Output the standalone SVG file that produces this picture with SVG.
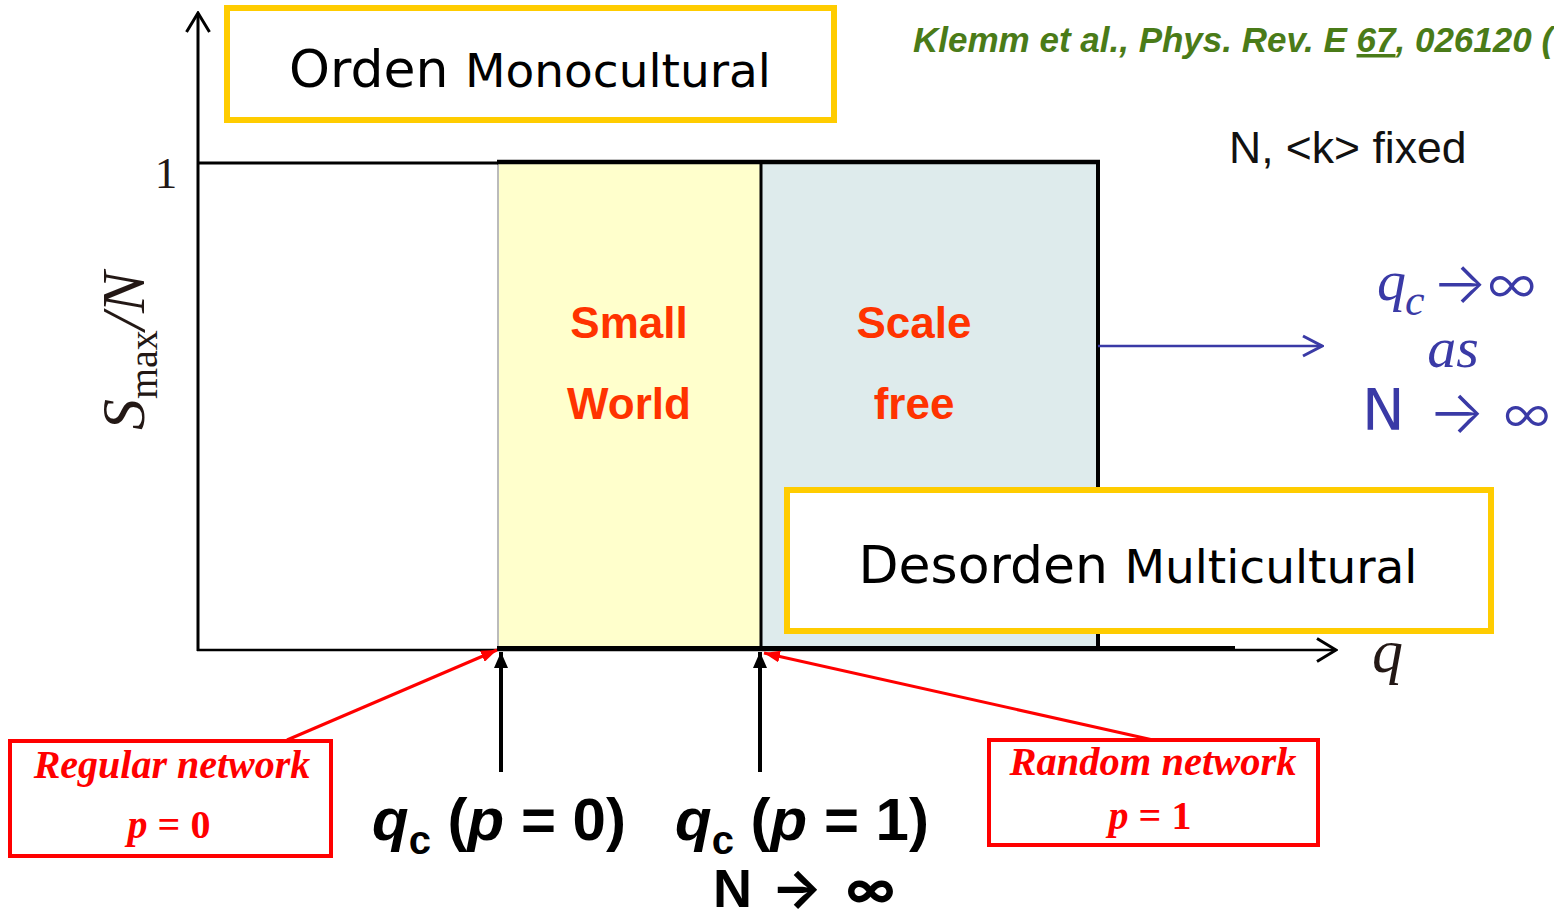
<svg xmlns="http://www.w3.org/2000/svg" width="1554" height="917" viewBox="0 0 1554 917">
<style>
.ax{stroke:#000;fill:none;stroke-linecap:butt}
.yb{fill:#fff;stroke:#FFCC00;stroke-width:6}
.rb{fill:#fff;stroke:#FF0000;stroke-width:4}
.big{font-family:"DejaVu Sans",sans-serif;fill:#000}
.reg{font-family:"Liberation Sans",Arial,sans-serif;font-weight:bold;fill:#FF3300;font-size:44px;text-anchor:middle}
.rtxt{font-family:"Liberation Serif","Times New Roman",serif;font-weight:bold;font-style:italic;fill:#FF0000;text-anchor:middle}
.blue{font-family:"Liberation Serif","Times New Roman",serif;fill:#3A3AA6}
.bsym{font-family:Inter,"DejaVu Sans",sans-serif;fill:#3A3AA6}
.lbl{font-family:"Liberation Sans",Arial,sans-serif;font-weight:bold;fill:#000}
.ksym{font-family:Inter,"DejaVu Sans",sans-serif;font-weight:bold;fill:#000}
</style>
<defs>
<marker id="chevK" viewBox="0 0 22 26" refX="20" refY="13" markerWidth="22" markerHeight="26" markerUnits="userSpaceOnUse" orient="auto"><path d="M1,1.5 L20,13 L1,24.5" fill="none" stroke="#000" stroke-width="3"/></marker>
<marker id="chevB" viewBox="0 0 22 24" refX="20" refY="12" markerWidth="22" markerHeight="24" markerUnits="userSpaceOnUse" orient="auto"><path d="M1,2 L20,12 L1,22" fill="none" stroke="#3A3AA6" stroke-width="3"/></marker>
<marker id="triK" viewBox="0 0 16 14" refX="16" refY="7" markerWidth="16" markerHeight="14" markerUnits="userSpaceOnUse" orient="auto"><path d="M0,0 L16,7 L0,14 z" fill="#000"/></marker>
<marker id="triR" viewBox="0 0 16 12" refX="16" refY="6" markerWidth="16" markerHeight="12" markerUnits="userSpaceOnUse" orient="auto"><path d="M0,0 L16,6 L0,12 z" fill="#FF0000"/></marker>
</defs>

<g id="regions">
<rect x="497" y="163" width="264" height="486" fill="#FFFFCC"/>
<rect x="761" y="163" width="337" height="486" fill="#DEEBEC"/>
<line x1="498" y1="163" x2="498" y2="649" stroke="#BBBBBB" stroke-width="2"/>
</g>

<g id="axes">
<line class="ax" x1="198" y1="651" x2="198" y2="13" stroke-width="3" marker-end="url(#chevK)"/>
<line class="ax" x1="197" y1="163" x2="498" y2="163" stroke-width="3"/>
<line class="ax" x1="497" y1="162" x2="1100" y2="162" stroke-width="4.5"/>
<line class="ax" x1="761" y1="163" x2="761" y2="649" stroke-width="3"/>
<line class="ax" x1="1098" y1="160" x2="1098" y2="650" stroke-width="4"/>
<line class="ax" x1="197" y1="650" x2="1336" y2="650" stroke-width="2.5" marker-end="url(#chevK)"/>
<line class="ax" x1="497" y1="648.5" x2="1098" y2="648.5" stroke-width="5"/>
<line class="ax" x1="1098" y1="648" x2="1235" y2="648" stroke-width="4"/>
</g>

<g id="connectors">
<line x1="1098" y1="346" x2="1322" y2="346" stroke="#3A3AA6" stroke-width="2.5" marker-end="url(#chevB)"/>
<line x1="501" y1="772" x2="501" y2="652" stroke="#000" stroke-width="4" marker-end="url(#triK)"/>
<line x1="760" y1="772" x2="760" y2="652" stroke="#000" stroke-width="4" marker-end="url(#triK)"/>
<line x1="287" y1="740" x2="497" y2="650" stroke="#FF0000" stroke-width="3" marker-end="url(#triR)"/>
<line x1="1153" y1="740" x2="764" y2="653" stroke="#FF0000" stroke-width="3" marker-end="url(#triR)"/>
</g>

<g id="axis-labels">
<text x="166" y="188" font-family="Liberation Serif,serif" font-size="45" fill="#231815" text-anchor="middle">1</text>
<text transform="translate(144,430) rotate(-90)" font-family="Liberation Serif,serif" font-style="italic" font-size="62" fill="#231815">S<tspan font-size="40" font-style="normal" dy="13">max</tspan><tspan dy="-13">/N</tspan></text>
<text x="1372" y="672" font-family="Liberation Serif,serif" font-style="italic" font-size="62" fill="#231815">q</text>
</g>

<g id="region-labels">
<text class="reg" x="629" y="338">Small</text>
<text class="reg" x="629" y="419">World</text>
<text class="reg" x="914" y="338">Scale</text>
<text class="reg" x="914" y="419">free</text>
</g>

<g id="citation">
<text x="913" y="52" font-family="Liberation Sans,Arial,sans-serif" font-weight="bold" font-style="italic" font-size="35" fill="#4A7B18">Klemm et al., Phys. Rev. E <tspan text-decoration="underline">67</tspan>, 026120 (</text>
<text x="1229" y="163" font-family="Liberation Sans,Arial,sans-serif" font-size="44.5" fill="#111">N, &lt;k&gt; fixed</text>
</g>

<g id="limit-note">
<text class="blue" x="1377" y="300" font-size="58" font-style="italic">q</text>
<text class="blue" x="1405" y="315" font-size="44" font-style="italic">c</text>
<text class="bsym" x="1432" y="303" font-size="58" font-weight="300">→</text>
<text class="bsym" x="1487" y="303" font-size="54" font-weight="300">∞</text>
<text class="blue" x="1453" y="367" font-size="58" font-style="italic" text-anchor="middle">as</text>
<text x="1362" y="430" font-family="DejaVu Sans,sans-serif" font-size="57" fill="#3A3AA6">N</text>
<text class="bsym" x="1428" y="433" font-size="60" font-weight="300">→</text>
<text class="bsym" x="1503" y="432" font-size="52" font-weight="300">∞</text>
</g>

<g id="node-orden">
<rect class="yb" x="227" y="8" width="607" height="112"/>
<text class="big" x="530" y="87" text-anchor="middle" font-size="52">Orden <tspan font-size="47">Monocultural</tspan></text>
</g>

<g id="node-desorden">
<rect class="yb" x="787" y="490" width="704" height="141"/>
<text class="big" x="1138" y="583" text-anchor="middle" font-size="52">Desorden <tspan font-size="47">Multicultural</tspan></text>
</g>

<g id="node-regular">
<rect class="rb" x="10" y="741" width="321" height="115"/>
<text class="rtxt" x="172" y="778" font-size="40">Regular network</text>
<text class="rtxt" x="169" y="838" font-size="40"><tspan>p</tspan><tspan font-style="normal"> = 0</tspan></text>
</g>

<g id="node-random">
<rect class="rb" x="989" y="740" width="329" height="105"/>
<text class="rtxt" x="1153" y="775" font-size="40.5">Random network</text>
<text class="rtxt" x="1150" y="829" font-size="40"><tspan>p</tspan><tspan font-style="normal"> = 1</tspan></text>
</g>

<g id="qc-labels">
<text class="lbl" x="372" y="840" font-size="60"><tspan font-style="italic">q</tspan><tspan font-size="40" dy="14">c</tspan><tspan dy="-14"> (</tspan><tspan font-style="italic">p</tspan> = 0)</text>
<text class="lbl" x="675" y="840" font-size="60"><tspan font-style="italic">q</tspan><tspan font-size="40" dy="14">c</tspan><tspan dy="-14"> (</tspan><tspan font-style="italic">p</tspan> = 1)</text>
<text class="lbl" x="713" y="907" font-size="54">N</text>
<text class="ksym" x="771" y="907" font-size="54" font-weight="600">→</text>
<text class="ksym" x="846" y="907" font-size="50" font-weight="600">∞</text>
</g>
</svg>
